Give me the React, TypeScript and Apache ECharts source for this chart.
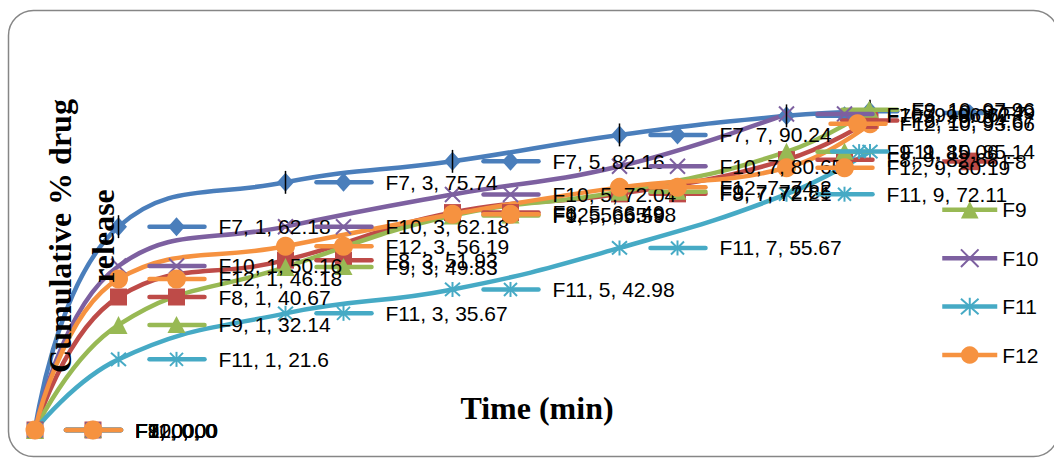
import React, { useEffect, useRef } from 'react';
import * as echarts from 'echarts';

const times = [0, 1, 3, 5, 7, 9, 10];
const seriesNames = ['F7', 'F8', 'F9', 'F10', 'F11', 'F12'];
const F7 = [0, 62.18, 75.74, 82.16, 90.24, 96.07, 97.49];
const F8 = [0, 40.67, 51.93, 66.49, 72.21, 82.68, 94.67];
const F9 = [0, 32.14, 49.83, 65.59, 72.85, 85.06, 97.96];
const F10 = [0, 50.16, 62.18, 72.04, 80.65, 96.62];
const F11 = [0, 21.6, 35.67, 42.98, 55.67, 72.11, 85.14];
const F12 = [0, 46.18, 56.19, 65.98, 74.2, 80.19, 93.66];
const F7Error = [0, 3.5, 3.5, 3.5, 3.5, 3.5, 3.5];

const seriesValues = [F7, F8, F9, F10, F11, F12];
const lineColors = ['#4A7EBB', '#BE4B48', '#98B954', '#7D60A0', '#46AAC5', '#F69240'];
const markerKinds = ['diamond', 'square', 'triangle', 'x', 'star', 'circle'];
const symbols: any[] = [
  'diamond',
  'rect',
  'triangle',
  'path://M0,0L10,10M10,0L0,10',
  'path://M5,0L5,10M0.6,0.6L9.4,9.4M9.4,0.6L0.6,9.4',
  'circle',
];
const symbolSizes: any[] = [[17, 19], 17, 18, 15, 15, 19];

const LABEL_FONT = '21px "Liberation Sans"';
const LABEL_RIGHT = 1035;

let measureCtx: CanvasRenderingContext2D | null = null;
function measure(text: string): number {
  if (!measureCtx) {
    const c = document.createElement('canvas');
    measureCtx = c.getContext('2d');
  }
  if (!measureCtx) return text.length * 11;
  measureCtx.font = LABEL_FONT;
  return measureCtx.measureText(text).width;
}

function markerAt(kind: string, cx: number, cy: number, color: string): any {
  switch (kind) {
    case 'diamond':
      return { type: 'polygon', shape: { points: [[cx, cy - 9.5], [cx + 8.5, cy], [cx, cy + 9.5], [cx - 8.5, cy]] }, style: { fill: color } };
    case 'square':
      return { type: 'rect', shape: { x: cx - 8.5, y: cy - 8.5, width: 17, height: 17 }, style: { fill: color } };
    case 'triangle':
      return { type: 'polygon', shape: { points: [[cx, cy - 9], [cx + 9, cy + 8], [cx - 9, cy + 8]] }, style: { fill: color } };
    case 'x':
      return {
        type: 'group',
        children: [
          { type: 'line', shape: { x1: cx - 7.5, y1: cy - 7.5, x2: cx + 7.5, y2: cy + 7.5 }, style: { stroke: color, lineWidth: 2 } },
          { type: 'line', shape: { x1: cx + 7.5, y1: cy - 7.5, x2: cx - 7.5, y2: cy + 7.5 }, style: { stroke: color, lineWidth: 2 } },
        ],
      };
    case 'star':
      return {
        type: 'group',
        children: [
          { type: 'line', shape: { x1: cx, y1: cy - 7.5, x2: cx, y2: cy + 7.5 }, style: { stroke: color, lineWidth: 2 } },
          { type: 'line', shape: { x1: cx - 6.5, y1: cy - 6.5, x2: cx + 6.5, y2: cy + 6.5 }, style: { stroke: color, lineWidth: 2 } },
          { type: 'line', shape: { x1: cx + 6.5, y1: cy - 6.5, x2: cx - 6.5, y2: cy + 6.5 }, style: { stroke: color, lineWidth: 2 } },
        ],
      };
    default:
      return { type: 'circle', shape: { cx, cy, r: 9.5 }, style: { fill: color } };
  }
}

export default function App() {
  const ref = useRef<HTMLDivElement>(null);

  useEffect(() => {
    if (!ref.current) return;
    const chart = echarts.init(ref.current, undefined, { renderer: 'svg' });

    const lineSeries = seriesNames.map((name, i) => ({
      name,
      type: 'line',
      data: seriesValues[i].map((v, k) => [times[k], v]),
      smooth: 0.45,
      symbol: symbols[i],
      symbolSize: symbolSizes[i],
      showAllSymbol: true,
      lineStyle: { color: lineColors[i], width: 4.5 },
      itemStyle: { color: lineColors[i], borderColor: lineColors[i], borderWidth: i === 3 || i === 4 ? 2 : 0 },
      z: 2,
      clip: false,
    }));

    const errorSeries = {
      name: 'F7 error',
      type: 'custom',
      data: F7.map((v, k) => [times[k], v, F7Error[k]]),
      z: 3,
      clip: false,
      renderItem: (params: any, api: any) => {
        const x = api.value(0);
        const y = api.value(1);
        const e = api.value(2);
        if (!e) return null;
        const p1 = api.coord([x, y - e]);
        const p2 = api.coord([x, y + e]);
        return { type: 'line', shape: { x1: p1[0], y1: p1[1], x2: p2[0], y2: p2[1] }, style: { stroke: '#000', lineWidth: 1.5 } };
      },
    };

    const labelSeries = seriesNames.map((name, i) => ({
      name: name + ' labels',
      type: 'custom',
      data: seriesValues[i].map((v, k) => [times[k], v]),
      z: 4,
      clip: false,
      renderItem: (params: any, api: any) => {
        const x = api.value(0);
        const y = api.value(1);
        const pt = api.coord([x, y]);
        const px = pt[0];
        const py = pt[1];
        const text = `${name}, ${x}, ${y}`;
        const w = measure(text);
        const dx = Math.min(0, LABEL_RIGHT - (px + 100 + w));
        return {
          type: 'group',
          children: [
            { type: 'line', shape: { x1: px + 31 + dx, y1: py, x2: px + 86 + dx, y2: py }, style: { stroke: lineColors[i], lineWidth: 4.5, lineCap: 'round' } },
            markerAt(markerKinds[i], px + 58 + dx, py, lineColors[i]),
            { type: 'text', x: px + 100 + dx, y: py, style: { text, fill: '#000', font: LABEL_FONT, align: 'left', verticalAlign: 'middle' } },
          ],
        };
      },
    }));

    chart.setOption({
      animation: false,
      backgroundColor: '#fff',
      grid: { left: 35, right: 17, top: 37.6, bottom: 28 },
      xAxis: { type: 'value', min: 0, max: 12, show: false },
      yAxis: { type: 'value', min: 0, max: 120, show: false },
      legend: {
        data: seriesNames,
        orient: 'vertical',
        left: 940,
        top: 102,
        padding: 0,
        itemWidth: 55,
        itemHeight: 22,
        itemGap: 26.4,
        lineStyle: { width: 4.5 },
        textStyle: { fontSize: 21, fontFamily: 'Liberation Sans', color: '#000', lineHeight: 22 },
      },
      graphic: [
        { type: 'rect', z: -1, shape: { x: 8.5, y: 10.5, width: 1050, height: 446, r: 25 }, style: { fill: 'none', stroke: '#868686', lineWidth: 1.5 } },
        { type: 'text', z: 100, x: 81, y: 236, rotation: Math.PI / 2, style: { text: 'Cumulative % drug\nrelease', font: 'bold 32px "Liberation Serif"', fill: '#000', align: 'center', verticalAlign: 'middle', lineHeight: 43 } },
        { type: 'text', z: 100, x: 537, y: 408, style: { text: 'Time (min)', font: 'bold 32px "Liberation Serif"', fill: '#000', align: 'center', verticalAlign: 'middle' } },
      ],
      series: [...lineSeries, errorSeries, ...labelSeries],
    } as any);

    return () => chart.dispose();
  }, []);

  return <div ref={ref} style={{ position: 'absolute', left: 0, top: 0, width: 1054, height: 458, background: '#fff' }} />;
}
